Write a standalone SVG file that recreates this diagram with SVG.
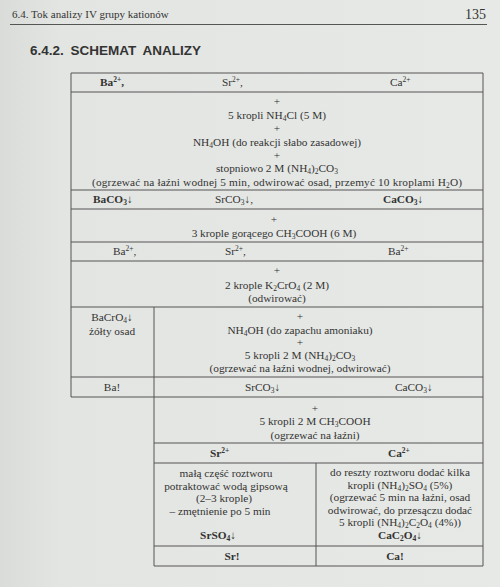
<svg xmlns="http://www.w3.org/2000/svg" width="500" height="587" viewBox="0 0 500 587">
<defs>
<linearGradient id="paper" x1="0" y1="0" x2="1" y2="0">
<stop offset="0" stop-color="#d9dcd9"/>
<stop offset="0.12" stop-color="#e3e5e2"/>
<stop offset="1" stop-color="#e7e9e6"/>
</linearGradient>
<style>
.t{font-family:"Liberation Serif","DejaVu Serif",serif;font-size:11.3px;fill:#333;text-anchor:middle}
.l{text-anchor:start}
.b{font-weight:bold}
.s{font-size:7.5px}
.g{stroke:#555;stroke-width:1;fill:none}
</style>
</defs>
<rect width="500" height="587" fill="url(#paper)"/>
<g id="page-header">
<text class="t l" x="12" y="18" style="font-size:11px">6.4. Tok analizy IV grupy kationów</text>
<text class="t" x="486" y="19" style="font-size:14px;text-anchor:end">135</text>
<line x1="10" y1="24.5" x2="487" y2="24.5" stroke="#555" stroke-width="1.2"/>
<text x="30" y="55" style="font-family:'Liberation Sans',Arial,sans-serif;font-weight:bold;font-size:13.5px;fill:#333;word-spacing:3px">6.4.2. SCHEMAT ANALIZY</text>
</g>
<g id="grid">
<path class="g" d="M71 73H483M71 92H483M71 190H483M71 209H483M71 242H483M71 261H483M71 307H483M71 377H483M71 397H483M154 443H483M154 463H483M154 546H483M154 566H483M71 73V397M483 73V566M154 307V566M316 463V566"/>
</g>
<g id="row-cations">
<text class="t l b" x="100" y="86">Ba<tspan class="s" dy="-4">2+</tspan><tspan dy="4">,</tspan></text>
<text class="t l" x="222" y="86">Sr<tspan class="s" dy="-4">2+</tspan><tspan dy="4">,</tspan></text>
<text class="t l" x="390" y="86">Ca<tspan class="s" dy="-4">2+</tspan></text>
</g>
<g id="step-carbonate">
<text class="t" x="277" y="105">+</text>
<text class="t" x="277" y="119">5 kropli NH<tspan class="s" dy="2">4</tspan><tspan dy="-2">Cl (5 M)</tspan></text>
<text class="t" x="277" y="132">+</text>
<text class="t" x="277" y="146">NH<tspan class="s" dy="2">4</tspan><tspan dy="-2">OH (do reakcji słabo zasadowej)</tspan></text>
<text class="t" x="277" y="159">+</text>
<text class="t" x="277" y="172">stopniowo 2 M (NH<tspan class="s" dy="2">4</tspan><tspan dy="-2">)</tspan><tspan class="s" dy="2">2</tspan><tspan dy="-2">CO</tspan><tspan class="s" dy="2">3</tspan></text>
<text class="t" x="277" y="185.5" textLength="370" lengthAdjust="spacing">(ogrzewać na łaźni wodnej 5 min, odwirować osad, przemyć 10 kroplami H<tspan class="s" dy="2">2</tspan><tspan dy="-2">O)</tspan></text>
</g>
<g id="row-carbonates">
<text class="t l b" x="93" y="203">BaCO<tspan class="s" dy="2">3</tspan><tspan dy="-2">↓</tspan></text>
<text class="t l" x="215" y="203">SrCO<tspan class="s" dy="2">3</tspan><tspan dy="-2">↓,</tspan></text>
<text class="t l b" x="383" y="203">CaCO<tspan class="s" dy="2">3</tspan><tspan dy="-2">↓</tspan></text>
</g>
<g id="step-acetic">
<text class="t" x="274" y="223">+</text>
<text class="t" x="274" y="237">3 krople gorącego CH<tspan class="s" dy="2">3</tspan><tspan dy="-2">COOH (6 M)</tspan></text>
</g>
<g id="row-ions">
<text class="t l" x="113" y="255">Ba<tspan class="s" dy="-4">2+</tspan><tspan dy="4">,</tspan></text>
<text class="t l" x="225" y="255">Sr<tspan class="s" dy="-4">2+</tspan><tspan dy="4">,</tspan></text>
<text class="t l" x="388" y="255">Ba<tspan class="s" dy="-4">2+</tspan></text>
</g>
<g id="step-chromate">
<text class="t" x="277" y="274">+</text>
<text class="t" x="277" y="289">2 krople K<tspan class="s" dy="2">2</tspan><tspan dy="-2">CrO</tspan><tspan class="s" dy="2">4</tspan><tspan dy="-2"> (2 M)</tspan></text>
<text class="t" x="277" y="302">(odwirować)</text>
</g>
<g id="cell-bacro4">
<text class="t" x="112" y="321">BaCrO<tspan class="s" dy="2">4</tspan><tspan dy="-2">↓</tspan></text>
<text class="t" x="112" y="335">żółty osad</text>
</g>
<g id="step-ammonia">
<text class="t" x="300" y="320">+</text>
<text class="t" x="300" y="334">NH<tspan class="s" dy="2">4</tspan><tspan dy="-2">OH (do zapachu amoniaku)</tspan></text>
<text class="t" x="300" y="346">+</text>
<text class="t" x="300" y="359">5 kropli 2 M (NH<tspan class="s" dy="2">4</tspan><tspan dy="-2">)</tspan><tspan class="s" dy="2">2</tspan><tspan dy="-2">CO</tspan><tspan class="s" dy="2">3</tspan></text>
<text class="t" x="300" y="372">(ogrzewać na łaźni wodnej, odwirować)</text>
</g>
<g id="row-ba">
<text class="t" x="112" y="391">Ba!</text>
<text class="t l" x="245" y="391">SrCO<tspan class="s" dy="2">3</tspan><tspan dy="-2">↓</tspan></text>
<text class="t l" x="395" y="391">CaCO<tspan class="s" dy="2">3</tspan><tspan dy="-2">↓</tspan></text>
</g>
<g id="step-acetic2">
<text class="t" x="315" y="412">+</text>
<text class="t" x="315" y="425">5 kropli 2 M CH<tspan class="s" dy="2">3</tspan><tspan dy="-2">COOH</tspan></text>
<text class="t" x="315" y="438.5">(ogrzewać na łaźni)</text>
</g>
<g id="row-sr-ca">
<text class="t l b" x="210" y="457">Sr<tspan class="s" dy="-4">2+</tspan></text>
<text class="t l b" x="388" y="457">Ca<tspan class="s" dy="-4">2+</tspan></text>
</g>
<g id="cell-sr">
<text class="t" x="226" y="477">małą część roztworu</text>
<text class="t" x="226" y="489.5">potraktować wodą gipsową</text>
<text class="t" x="224" y="502">(2–3 krople)</text>
<text class="t" x="220" y="514.5">– zmętnienie po 5 min</text>
<text class="t b" x="218" y="539">SrSO<tspan class="s" dy="2">4</tspan><tspan dy="-2">↓</tspan></text>
</g>
<g id="cell-ca">
<text class="t" x="400" y="476">do reszty roztworu dodać kilka</text>
<text class="t" x="400" y="488.5">kropli (NH<tspan class="s" dy="2">4</tspan><tspan dy="-2">)</tspan><tspan class="s" dy="2">2</tspan><tspan dy="-2">SO</tspan><tspan class="s" dy="2">4</tspan><tspan dy="-2"> (5%)</tspan></text>
<text class="t" x="400" y="501">(ogrzewać 5 min na łaźni, osad</text>
<text class="t" x="400" y="513.5">odwirować, do przesączu dodać</text>
<text class="t" x="400" y="526">5 kropli (NH<tspan class="s" dy="2">4</tspan><tspan dy="-2">)</tspan><tspan class="s" dy="2">2</tspan><tspan dy="-2">C</tspan><tspan class="s" dy="2">2</tspan><tspan dy="-2">O</tspan><tspan class="s" dy="2">4</tspan><tspan dy="-2"> (4%))</tspan></text>
<text class="t b" x="400" y="539">CaC<tspan class="s" dy="2">2</tspan><tspan dy="-2">O</tspan><tspan class="s" dy="2">4</tspan><tspan dy="-2">↓</tspan></text>
</g>
<g id="row-final">
<text class="t b" x="232" y="560">Sr!</text>
<text class="t b" x="395" y="560">Ca!</text>
</g>
</svg>
